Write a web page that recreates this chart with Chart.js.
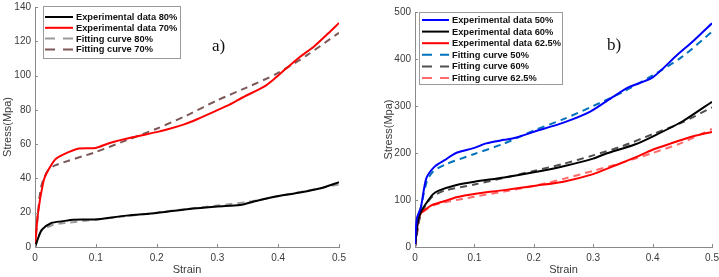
<!DOCTYPE html>
<html><head><meta charset="utf-8">
<script src="https://cdn.jsdelivr.net/npm/chart.js@4/dist/chart.umd.min.js"></script>
<style>
body{margin:0;background:#fff;width:719px;height:277px;overflow:hidden;position:relative}
#ca{position:absolute;left:0;top:0}
#cb{position:absolute;left:360px;top:0}
</style></head><body>
<canvas id="ca" width="358" height="277"></canvas>
<canvas id="cb" width="359" height="277"></canvas>
<script>
// ---------- Data: chart a) ----------
const xTicks = [0, 0.1, 0.2, 0.3, 0.4, 0.5];
const yTicksA = [0, 20, 40, 60, 80, 100, 120, 140];
const yTicksB = [0, 100, 200, 300, 400, 500];

const strainExp80 = [0, 0.005, 0.011, 0.027, 0.045, 0.063, 0.1, 0.15, 0.2, 0.25, 0.3, 0.337, 0.365, 0.392, 0.436, 0.47, 0.5];
const stressExp80 = [0, 5, 10, 14, 15, 15.9, 16.1, 18.3, 19.9, 22, 23.6, 24.5, 27, 29.2, 31.8, 34.3, 37.8];
const strainExp70 = [0, 0.005, 0.0137, 0.019, 0.033, 0.047, 0.072, 0.1, 0.123, 0.16, 0.2, 0.217, 0.244, 0.26, 0.3, 0.32, 0.343, 0.376, 0.392, 0.414, 0.436, 0.458, 0.482, 0.5];
const stressExp70 = [0, 20, 38, 43, 51, 54, 57.4, 57.8, 60.7, 64, 67, 68.5, 71.4, 73.5, 79.8, 83, 87.5, 93.4, 97.6, 104.4, 111, 116.7, 124.5, 130.7];
const strainFit80 = [0, 0.01, 0.03, 0.05, 0.1, 0.15, 0.2, 0.25, 0.3, 0.35, 0.4, 0.45, 0.5];
const stressFit80 = [0, 9, 13, 14, 16, 18, 20, 22.2, 24.2, 26.3, 29.6, 33, 36.5];
const strainFit70 = [0, 0.005, 0.01, 0.02, 0.033, 0.1, 0.15, 0.2, 0.25, 0.3, 0.348, 0.397, 0.447, 0.5];
const stressFit70 = [0, 20, 35, 44, 47.6, 55.4, 62.2, 69, 76.8, 85.6, 93, 101, 111.8, 125];

// ---------- Data: chart b) ----------
const strainExp50 = [0, 0.003, 0.01, 0.019, 0.033, 0.05, 0.07, 0.1, 0.12, 0.15, 0.171, 0.2, 0.25, 0.295, 0.334, 0.36, 0.4, 0.44, 0.47, 0.5];
const stressExp50 = [0, 60, 85, 146, 171, 185, 200.5, 211, 220.5, 228, 233, 245, 264.6, 288, 320, 340, 361, 407, 440, 476];
const strainExp60 = [0, 0.005, 0.01, 0.02, 0.03, 0.04, 0.07, 0.1, 0.15, 0.2, 0.25, 0.3, 0.32, 0.37, 0.4, 0.45, 0.5];
const stressExp60 = [0, 55, 75, 95, 112, 120, 132, 139, 148, 159, 172, 188, 198, 218, 235, 267, 309];
const strainExp625 = [0, 0.005, 0.01, 0.02, 0.03, 0.05, 0.07, 0.1, 0.15, 0.2, 0.25, 0.3, 0.33, 0.37, 0.4, 0.43, 0.47, 0.5];
const stressExp625 = [0, 55, 72, 82, 90, 98, 106, 113, 121, 130, 139, 155, 170, 190, 207, 220, 236, 245];
const strainFit50 = [0, 0.005, 0.01, 0.02, 0.03, 0.05, 0.1, 0.15, 0.2, 0.25, 0.3, 0.35, 0.4, 0.45, 0.5];
const stressFit50 = [0, 50, 85, 140, 160, 175, 198, 220, 248, 272, 300, 330, 365, 405, 458];
const strainFit60 = [0, 0.005, 0.01, 0.02, 0.03, 0.05, 0.1, 0.15, 0.2, 0.25, 0.3, 0.35, 0.4, 0.45, 0.5];
const stressFit60 = [0, 45, 70, 93, 108, 120, 133, 147, 162, 177, 195, 215, 240, 265, 297];
const strainFit625 = [0, 0.005, 0.01, 0.03, 0.05, 0.1, 0.15, 0.2, 0.25, 0.3, 0.35, 0.4, 0.45, 0.5];
const stressFit625 = [0, 40, 70, 88, 95, 107, 118, 130, 145, 162, 180, 200, 222, 251];

const pts = (xs, ys) => xs.map((x, i) => ({x: x, y: ys[i]}));

const fmt = v => (Math.round(v * 10) / 10).toString();

const overlay = {
  id: 'overlay',
  afterDraw(chart, args, o) {
    const ctx = chart.ctx;
    const xs = chart.scales.x, ys = chart.scales.y;
    ctx.save();
    // inward tick marks
    ctx.strokeStyle = '#8a8a8a'; ctx.lineWidth = 1;
    xs.ticks.forEach(t => {
      const px = Math.round(xs.getPixelForValue(t.value)) + 0.5;
      ctx.beginPath(); ctx.moveTo(px, ys.bottom); ctx.lineTo(px, ys.bottom - 3); ctx.stroke();
    });
    ys.ticks.forEach(t => {
      const py = Math.round(ys.getPixelForValue(t.value)) + 0.5;
      ctx.beginPath(); ctx.moveTo(xs.left, py); ctx.lineTo(xs.left + 3, py); ctx.stroke();
    });
    // legend
    const L = o.legend;
    ctx.fillStyle = '#fff';
    ctx.fillRect(L.x, L.y, L.w, L.h);
    ctx.strokeStyle = '#9a9a9a'; ctx.lineWidth = 1;
    ctx.strokeRect(L.x + 0.5, L.y + 0.5, L.w, L.h);
    ctx.font = 'bold 9.3px "Liberation Sans", Arial, sans-serif';
    ctx.textBaseline = 'middle';
    chart.data.datasets.forEach((d, i) => {
      const cy = L.y + L.first + i * L.step;
      ctx.strokeStyle = d.borderColor; ctx.lineWidth = d.borderWidth;
      ctx.setLineDash(d.borderDash ? [10, 8] : []);
      ctx.beginPath(); ctx.moveTo(L.x + L.lx0, cy); ctx.lineTo(L.x + L.lx1, cy); ctx.stroke();
      ctx.setLineDash([]);
      ctx.fillStyle = '#111';
      ctx.fillText(d.label, L.x + L.tx, cy + 0.5);
    });
    // panel tag
    ctx.font = '17px "Liberation Serif", "Times New Roman", serif';
    ctx.fillStyle = '#111'; ctx.textBaseline = 'alphabetic';
    ctx.fillText(o.tag.text, o.tag.x, o.tag.y);
    ctx.restore();
  }
};

function makeChart(id, datasets, yMax, yStep, pad, yW, titlePad, legend, tag) {
  return new Chart(document.getElementById(id), {
    type: 'line',
    data: {datasets: datasets},
    plugins: [overlay],
    options: {
      responsive: false, animation: false,
      layout: {padding: pad},
      elements: {point: {radius: 0}, line: {tension: 0.25}},
      plugins: {legend: {display: false}, tooltip: {enabled: false}, overlay: {legend: legend, tag: tag}},
      scales: {
        x: {
          type: 'linear', min: 0, max: 0.5,
          afterBuildTicks: s => { s.ticks = xTicks.map(v => ({value: v})); },
          afterFit: s => { s.height = 30; s.paddingLeft = 0; s.paddingRight = 0; },
          grid: {display: true, drawOnChartArea: false, drawTicks: false},
          border: {color: '#8a8a8a', width: 1},
          ticks: {padding: 5, color: '#3a3a3a', font: {size: 10, family: '"Liberation Sans", Arial, sans-serif'}, maxRotation: 0, callback: v => fmt(v)},
          title: {display: true, text: 'Strain', color: '#3a3a3a', padding: {top: 0, bottom: 0}, font: {size: 11, family: '"Liberation Sans", Arial, sans-serif'}}
        },
        y: {
          type: 'linear', min: 0, max: yMax,
          ticks: {stepSize: yStep, padding: 4, color: '#3a3a3a', font: {size: 10, family: '"Liberation Sans", Arial, sans-serif'}},
          afterFit: s => { s.width = yW; s.paddingTop = 0; s.paddingBottom = 0; },
          grid: {display: true, drawOnChartArea: false, drawTicks: false},
          border: {color: '#8a8a8a', width: 1},
          title: {display: true, text: 'Stress(Mpa)', color: '#3a3a3a', padding: {top: titlePad, bottom: 0}, font: {size: 11, family: '"Liberation Sans", Arial, sans-serif'}}
        }
      }
    }
  });
}

const solid = (label, xs, ys, color) => ({label, data: pts(xs, ys), borderColor: color, borderWidth: 2, fill: false});
const dashed = (label, xs, ys, color) => ({label, data: pts(xs, ys), borderColor: color, borderWidth: 2, borderDash: [7, 5], fill: false});

makeChart('ca', [
  solid('Experimental data 80%', strainExp80, stressExp80, '#000000'),
  solid('Experimental data 70%', strainExp70, stressExp70, '#ff0000'),
  dashed('Fitting curve 80%', strainFit80, stressFit80, '#9b9b9b'),
  dashed('Fitting curve 70%', strainFit70, stressFit70, '#7d5858')
], 140, 20, {top: 7, right: 19, bottom: 0, left: 0}, 35, 1,
  {x: 43, y: 6, w: 137, h: 52, first: 11, step: 10.8, lx0: 2, lx1: 30, tx: 33},
  {text: 'a)', x: 212, y: 51});

makeChart('cb', [
  solid('Experimental data 50%', strainExp50, stressExp50, '#0000ff'),
  solid('Experimental data 60%', strainExp60, stressExp60, '#000000'),
  solid('Experimental data 62.5%', strainExp625, stressExp625, '#ff0000'),
  dashed('Fitting curve 50%', strainFit50, stressFit50, '#0072bd'),
  dashed('Fitting curve 60%', strainFit60, stressFit60, '#505050'),
  dashed('Fitting curve 62.5%', strainFit625, stressFit625, '#ff6b6b')
], 500, 100, {top: 12, right: 7, bottom: 0, left: 0}, 55, 22,
  {x: 59, y: 12, w: 143, h: 72, first: 8, step: 11.6, lx0: 3, lx1: 30, tx: 33},
  {text: 'b)', x: 247, y: 50});
</script>
</body></html>
